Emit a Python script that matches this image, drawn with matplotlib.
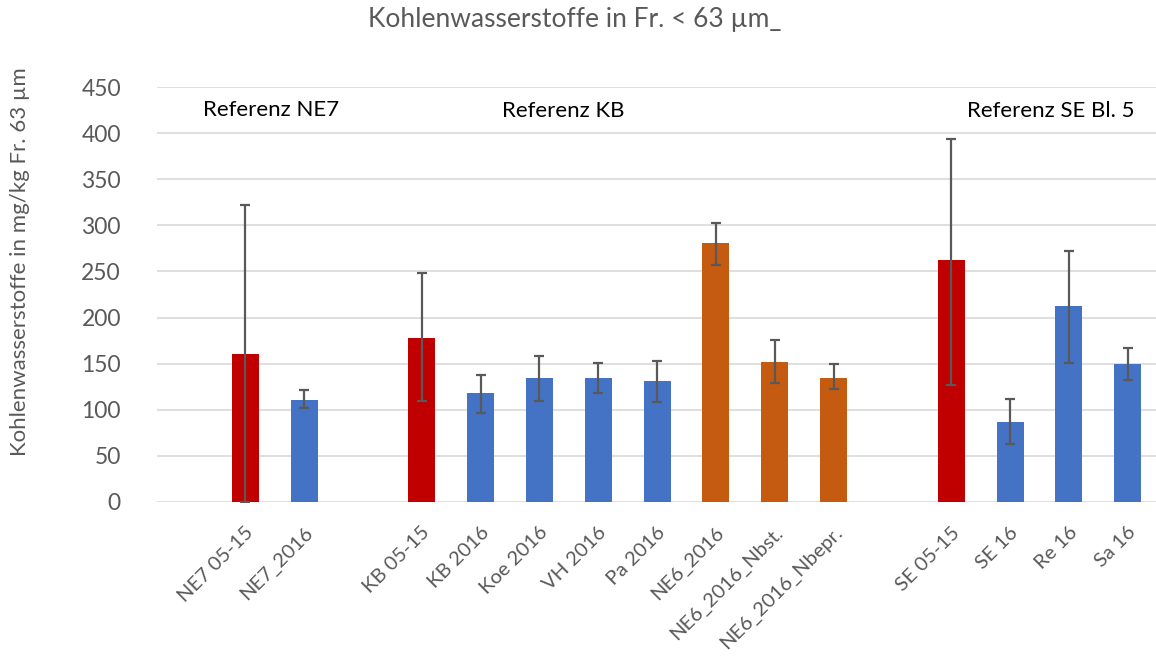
import numpy as np
import matplotlib
matplotlib.use("Agg")
import matplotlib.pyplot as plt
from matplotlib.transforms import ScaledTranslation

plt.rcParams['font.family'] = ['Lato', 'DejaVu Sans']

# categories ('' = empty slot between the groups)
categories = ['NE7 05-15', 'NE7_2016', '',
              'KB 05-15', 'KB 2016', 'Koe 2016', 'VH 2016', 'Pa 2016',
              'NE6_2016', 'NE6_2016_Nbst.', 'NE6_2016_Nbepr.', '',
              'SE 05-15', 'SE 16', 'Re 16', 'Sa 16']
values = [160, 111, np.nan,
          178, 118, 134, 135, 131,
          281, 152, 135, np.nan,
          262, 87, 212, 150]
err_low = [0, 102, np.nan,
           110, 96, 109, 118, 108,
           257, 129, 122, np.nan,
           127, 63, 151, 132]
err_high = [322, 121, np.nan,
            248, 138, 158, 151, 153,
            303, 176, 150, np.nan,
            394, 112, 272, 167]
kinds = ['ref', 'b', '', 'ref', 'b', 'b', 'b', 'b',
         'o', 'o', 'o', '', 'ref', 'b', 'b', 'b']
group_labels = ['Referenz NE7', 'Referenz KB', 'Referenz SE Bl. 5']
yticks = [0, 50, 100, 150, 200, 250, 300, 350, 400, 450]

colmap = {'ref': '#C00000', 'b': '#4472C4', 'o': '#C55A11', '': 'none'}
gray = '#595959'

x = np.arange(len(categories))
vals = np.array(values, dtype=float)
lo = vals - np.array(err_low, dtype=float)
hi = np.array(err_high, dtype=float) - vals

fig = plt.figure(figsize=(11.56, 6.57), dpi=100)
ax = fig.add_axes([157/1156, 1 - 502/657, 1 - 157/1156, 415/657])

ax.bar(x, vals, width=0.46, color=[colmap[k] for k in kinds], zorder=2)
ax.errorbar(x, vals, yerr=[lo, hi], fmt='none', ecolor=gray, elinewidth=1.6,
            capsize=3.5, capthick=1.6, zorder=3)

ax.set_xlim(-1.5, 15.48)
ax.set_ylim(0, 450)
ax.set_yticks(yticks)
ax.yaxis.grid(True, color='#D9D9D9', lw=1.2)
ax.set_axisbelow(True)
for s in ax.spines.values():
    s.set_visible(False)
ax.tick_params(axis='both', length=0, colors=gray)
ax.tick_params(axis='y', labelsize=16.5, pad=26)
ax.set_xticks(x)
ax.set_xticklabels(categories, rotation=45, ha='right', va='center',
                   rotation_mode='anchor', fontsize=14.5)
ax.tick_params(axis='x', pad=20)
# nudge the slanted labels a little to the right
shift = ScaledTranslation(4/72, 0, fig.dpi_scale_trans)
for lab in ax.get_xticklabels():
    lab.set_transform(lab.get_transform() + shift)

ax.text(-0.72, 425, group_labels[0], fontsize=16, color='black', va='center')
ax.text(4.36, 424, group_labels[1], fontsize=16, color='black', va='center')
ax.text(12.27, 424, group_labels[2], fontsize=16, color='black', va='center')

fig.text(575/1156, 1 - 20/657, 'Kohlenwasserstoffe in Fr. < 63 µm_',
         ha='center', va='center', fontsize=19, color=gray)
fig.text(20/1156, 1 - 262/657, 'Kohlenwasserstoffe in mg/kg Fr. 63 µm',
         rotation=90, ha='center', va='center', fontsize=16, color=gray)

fig.savefig('out.png', dpi=100)
